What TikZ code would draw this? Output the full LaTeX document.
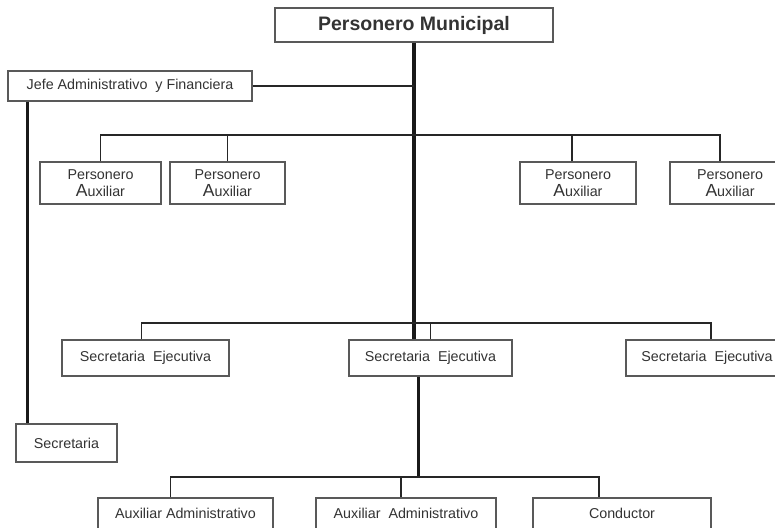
\documentclass[tikz,border=0pt]{standalone}
\usepackage{fontspec}
\setmainfont{Liberation Sans}
\begin{document}
\begin{tikzpicture}[x=1pt,y=-1pt,
  box/.style={draw=black!65,line width=1.3pt,rectangle,inner sep=0pt,
    text=black!80,font=\fontsize{14.3}{17}\selectfont,align=center},
  thin/.style={draw=black!85,line width=1.8pt},
  thickline/.style={draw=black!90,line width=3.2pt}]
\useasboundingbox (0,0) rectangle (775,527);
\clip (0,0) rectangle (775,527);
\fill[white] (0,0) rectangle (775,527);
% nodes
\node[box,minimum width=278pt,minimum height=34pt,font=\bfseries\fontsize{19.5}{22}\selectfont] (pm) at (414,25) {Personero Municipal};
\node[box,minimum width=244pt,minimum height=30pt] (jefe) at (130,86) {Jefe Administrativo\ \ y Financiera};
\node[box,minimum width=101pt,minimum height=38pt] (sec) at (66.5,443) {Secretaria};
\node[box,minimum width=121pt,minimum height=42pt] (pa1) at (100.5,183) {Personero\\{\fontsize{17.5}{17}\selectfont A}uxiliar};
\node[box,minimum width=115pt,minimum height=42pt] (pa2) at (227.5,183) {Personero\\{\fontsize{17.5}{17}\selectfont A}uxiliar};
\node[box,minimum width=116pt,minimum height=42pt] (pa3) at (578,183) {Personero\\{\fontsize{17.5}{17}\selectfont A}uxiliar};
\node[box,minimum width=120pt,minimum height=42pt] (pa4) at (730,183) {Personero\\{\fontsize{17.5}{17}\selectfont A}uxiliar};
\node[box,minimum width=167pt,minimum height=36pt] (se1) at (145.5,358) {Secretaria\ \ Ejecutiva};
\node[box,minimum width=163pt,minimum height=36pt] (se2) at (430.5,358) {Secretaria\ \ Ejecutiva};
\node[box,minimum width=162pt,minimum height=36pt] (se3) at (707,358) {Secretaria\ \ Ejecutiva};
\node[box,minimum width=175pt,minimum height=31pt] (b1) at (185.5,513.5) {Auxiliar Administrativo};
\node[box,minimum width=180pt,minimum height=31pt] (b2) at (406,513.5) {Auxiliar\ \ Administrativo};
\node[box,minimum width=178pt,minimum height=31pt] (b3) at (622,513.5) {Conductor};
% bus coordinates
\coordinate (busA) at (415,135);
\coordinate (busB) at (415,323);
\coordinate (busC) at (415,477);
% main vertical
\draw[thickline] (pm.south) -- (pm.south |- se2.north);
\draw[thickline] ([xshift=-12pt]se2.south) -- ([xshift=-12pt]se2.south |- busC);
% jefe
\draw[thin] (jefe.east) -- (jefe.east -| pm.south);
\draw[thickline] ([xshift=20pt]jefe.south west) -- ([xshift=20pt]jefe.south west |- sec.north);
% personero auxiliar bus
\draw[thin] (pa1.north) -- (pa1.north |- busA) -- ([xshift=-10pt]pa4.north |- busA) -- ([xshift=-10pt]pa4.north);
\draw[thin] (pa2.north) -- (pa2.north |- busA);
\draw[thin] ([xshift=-6pt]pa3.north) -- ([xshift=-6pt]pa3.north |- busA);
% secretaria ejecutiva bus
\draw[thin] ([xshift=-4pt]se1.north) -- ([xshift=-4pt]se1.north |- busB) -- ([xshift=4pt]se3.north |- busB) -- ([xshift=4pt]se3.north);
\draw[thin] (se2.north) -- (se2.north |- busB);
% bottom bus
\draw[thin] ([xshift=-15pt]b1.north) -- ([xshift=-15pt]b1.north |- busC) -- ([xshift=-23pt]b3.north |- busC) -- ([xshift=-23pt]b3.north);
\draw[thin] ([xshift=-5pt]b2.north) -- ([xshift=-5pt]b2.north |- busC);
\end{tikzpicture}
\end{document}
